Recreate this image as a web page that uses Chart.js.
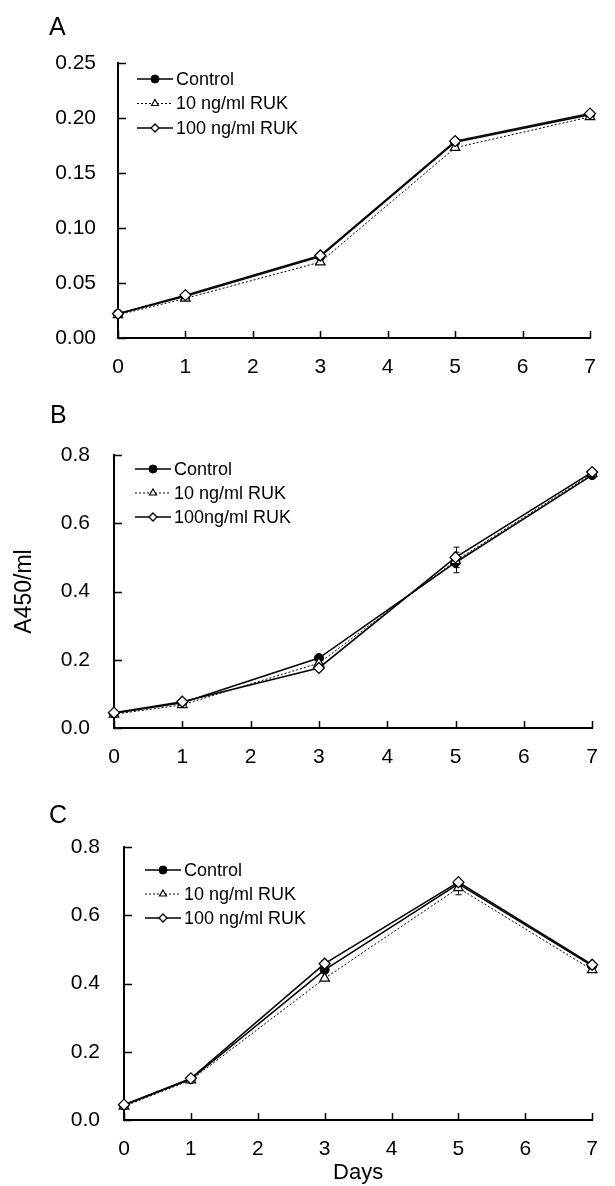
<!DOCTYPE html>
<html>
<head>
<meta charset="utf-8">
<script src="https://cdn.jsdelivr.net/npm/chart.js@4.4.1/dist/chart.umd.min.js"></script>
<style>
  body { margin: 0; background: #fff; }
  #page { position: relative; width: 615px; height: 1186px; overflow: hidden; font-family: "Liberation Sans", Arial, sans-serif; }
  .panel { position: absolute; left: 0; }
  .letter { position: absolute; font-size: 25px; line-height: 25px; color: #000; }
</style>
</head>
<body>
<div id="page">
  <div class="panel" style="top:0"><canvas id="chartA" width="615" height="390"></canvas></div>
  <div class="panel" style="top:390px"><canvas id="chartB" width="615" height="390"></canvas></div>
  <div class="panel" style="top:780px"><canvas id="chartC" width="615" height="406"></canvas></div>
  <div class="letter" style="left:49px;top:14px">A</div>
  <div class="letter" style="left:50px;top:402px">B</div>
  <div class="letter" style="left:49px;top:802px">C</div>
</div>
<script>
// days on the x axis, and the tick labels of each axis
const days = [0, 1, 3, 5, 7];
const xTicks = ['0', '1', '2', '3', '4', '5', '6', '7'];
const yTicksA = ['0.00', '0.05', '0.10', '0.15', '0.20', '0.25'];
const yTicksBC = ['0.0', '0.2', '0.4', '0.6', '0.8'];

const namesAC = ['Control', '10 ng/ml RUK', '100 ng/ml RUK'];
const namesB = ['Control', '10 ng/ml RUK', '100ng/ml RUK'];

// panel A
const controlA = [0.022, 0.038, 0.074, 0.178, 0.203];
const ruk10A = [0.021, 0.036, 0.069, 0.173, 0.201];
const ruk100A = [0.022, 0.039, 0.075, 0.179, 0.204];

// panel B
const controlB = [0.043, 0.074, 0.205, 0.485, 0.741];
const ruk10B = [0.040, 0.068, 0.190, 0.490, 0.745];
const ruk100B = [0.045, 0.077, 0.176, 0.500, 0.750];
const controlBErr = [0, 0, 0, 0.03, 0];
const ruk100BErr = [0, 0, 0, 0.03, 0];

// panel C
const controlC = [0.043, 0.120, 0.440, 0.692, 0.452];
const ruk10C = [0.040, 0.117, 0.415, 0.680, 0.440];
const ruk100C = [0.045, 0.122, 0.458, 0.697, 0.455];
const ruk10CErr = [0, 0, 0, 0.02, 0];

const FONT = '"Liberation Sans", Arial, sans-serif';

function makeDatasets(names, ctl, r10, r100, errs) {
  const pts = (vals) => days.map((d, i) => ({ x: d, y: vals[i] }));
  return [
    { label: names[0], data: pts(ctl), errors: errs[0], borderColor: '#000', borderWidth: 1.5,
      pointStyle: 'circle', pointRadius: 4.5, pointBackgroundColor: '#000', pointBorderColor: '#000',
      pointBorderWidth: 1, order: 2 },
    { label: names[1], data: pts(r10), errors: errs[1], borderColor: '#000', borderWidth: 1, borderDash: [2, 2],
      pointStyle: 'triangle', pointRadius: 5.5, pointBackgroundColor: '#fff', pointBorderColor: '#000',
      pointBorderWidth: 1.2, order: 1 },
    { label: names[2], data: pts(r100), errors: errs[2], borderColor: '#000', borderWidth: 1.5,
      pointStyle: 'rectRot', pointRadius: 5.5, pointBackgroundColor: '#fff', pointBorderColor: '#000',
      pointBorderWidth: 1.3, order: 0 },
  ];
}

// short tick marks pointing into the plot
const inwardTicks = {
  id: 'inwardTicks',
  afterDraw(chart) {
    const { ctx, chartArea, scales: { x, y } } = chart;
    ctx.save();
    ctx.strokeStyle = '#000';
    ctx.lineWidth = 1.5;
    ctx.beginPath();
    x.ticks.forEach((t) => {
      const px = Math.round(x.getPixelForValue(t.value)) + 0.5;
      ctx.moveTo(px, chartArea.bottom);
      ctx.lineTo(px, chartArea.bottom - 7);
    });
    y.ticks.forEach((t) => {
      const py = Math.round(y.getPixelForValue(t.value)) + 0.5;
      ctx.moveTo(chartArea.left, py);
      ctx.lineTo(chartArea.left + 8, py);
    });
    ctx.stroke();
    ctx.restore();
  },
};

const errorBars = {
  id: 'errorBars',
  beforeDatasetsDraw(chart) {
    const { ctx, scales: { x, y } } = chart;
    ctx.save();
    ctx.strokeStyle = '#000';
    ctx.lineWidth = 1;
    chart.data.datasets.forEach((ds) => {
      (ds.errors || []).forEach((e, i) => {
        if (!e) return;
        const p = ds.data[i];
        const px = Math.round(x.getPixelForValue(p.x)) + 0.5;
        const top = y.getPixelForValue(p.y + e);
        const bot = y.getPixelForValue(p.y - e);
        ctx.beginPath();
        ctx.moveTo(px, top); ctx.lineTo(px, bot);
        ctx.moveTo(px - 3, top); ctx.lineTo(px + 3, top);
        ctx.moveTo(px - 3, bot); ctx.lineTo(px + 3, bot);
        ctx.stroke();
      });
    });
    ctx.restore();
  },
};

// legend inside the plot: line - marker - line, then the label
const panelLegend = {
  id: 'panelLegend',
  afterDatasetsDraw(chart, args, opts) {
    const { ctx, chartArea } = chart;
    ctx.save();
    chart.data.datasets.forEach((ds, i) => {
      const y = chartArea.top + opts.top + i * opts.gap;
      const x0 = chartArea.left + opts.left;
      const x1 = x0 + opts.lineLen;
      ctx.strokeStyle = '#000';
      ctx.lineWidth = ds.borderWidth;
      ctx.setLineDash(ds.borderDash || []);
      ctx.beginPath();
      ctx.moveTo(x0, y); ctx.lineTo(x1, y);
      ctx.stroke();
      ctx.setLineDash([]);
      ctx.fillStyle = ds.pointBackgroundColor;
      ctx.strokeStyle = '#000';
      ctx.lineWidth = ds.pointBorderWidth;
      Chart.helpers.drawPoint(ctx, { pointStyle: ds.pointStyle, radius: opts.radius, borderWidth: ds.pointBorderWidth, rotation: 0 }, (x0 + x1) / 2, y);
      ctx.fillStyle = '#000';
      ctx.font = '18px ' + FONT;
      ctx.textBaseline = 'middle';
      ctx.textAlign = 'left';
      ctx.fillText(ds.label, x1 + opts.textGap, y + 1);
    });
    ctx.restore();
  },
};

function makeScales(yLabels, yWidth, yPad, xHeight, xTitle, yTitle) {
  return {
    x: {
      type: 'linear', min: 0, max: 7,
      afterBuildTicks: (s) => { s.ticks = xTicks.map((v) => ({ value: +v })); },
      afterFit: (s) => { s.height = xHeight; },
      ticks: { callback: (v, i) => xTicks[i], autoSkip: false, maxRotation: 0, padding: 17, color: '#000', font: { family: FONT, size: 21 } },
      grid: { display: true, drawOnChartArea: false, drawTicks: false },
      border: { display: true, width: 2, color: '#000' },
      title: xTitle ? { display: true, text: xTitle, color: '#000', font: { family: FONT, size: 22 }, padding: { top: 0, bottom: 0 } } : { display: false },
    },
    y: {
      type: 'linear', min: 0, max: +yLabels[yLabels.length - 1],
      afterBuildTicks: (s) => { s.ticks = yLabels.map((v) => ({ value: +v })); },
      afterFit: (s) => { s.width = yWidth; },
      ticks: { callback: (v, i) => yLabels[i], autoSkip: false, padding: yPad, color: '#000', font: { family: FONT, size: 21 } },
      grid: { display: true, drawOnChartArea: false, drawTicks: false },
      border: { display: true, width: 2, color: '#000' },
      title: yTitle ? { display: true, text: yTitle, color: '#000', font: { family: FONT, size: 23 }, padding: { top: 11, bottom: 0 } } : { display: false },
    },
  };
}

function makeChart(id, datasets, scales, padding, legendPos) {
  return new Chart(document.getElementById(id), {
    type: 'line',
    data: { datasets },
    options: {
      responsive: false,
      animation: false,
      layout: { padding },
      clip: false,
      plugins: {
        legend: { display: false },
        tooltip: { enabled: false },
        panelLegend: legendPos,
      },
      scales,
    },
    plugins: [errorBars, panelLegend, inwardTicks],
  });
}

makeChart('chartA',
  makeDatasets(namesAC, controlA, ruk10A, ruk100A, [null, null, null]),
  makeScales(yTicksA, 118, 22, 52, null, null),
  { left: 0, right: 25, top: 63, bottom: 0 },
  { left: 19, top: 16, gap: 24.5, lineLen: 36, radius: 4, textGap: 3 });

makeChart('chartB',
  makeDatasets(namesB, controlB, ruk10B, ruk100B, [controlBErr, null, ruk100BErr]),
  makeScales(yTicksBC, 114, 24, 52, null, 'A450/ml'),
  { left: 0, right: 15, top: 65, bottom: 0 },
  { left: 21, top: 14, gap: 24, lineLen: 36, radius: 4, textGap: 3 });

makeChart('chartC',
  makeDatasets(namesAC, controlC, ruk10C, ruk100C, [null, ruk10CErr, null]),
  makeScales(yTicksBC, 124, 24, 66, 'Days', null),
  { left: 0, right: 7, top: 67, bottom: 0 },
  { left: 21, top: 23, gap: 24, lineLen: 36, radius: 4, textGap: 3 });
</script>
</body>
</html>
